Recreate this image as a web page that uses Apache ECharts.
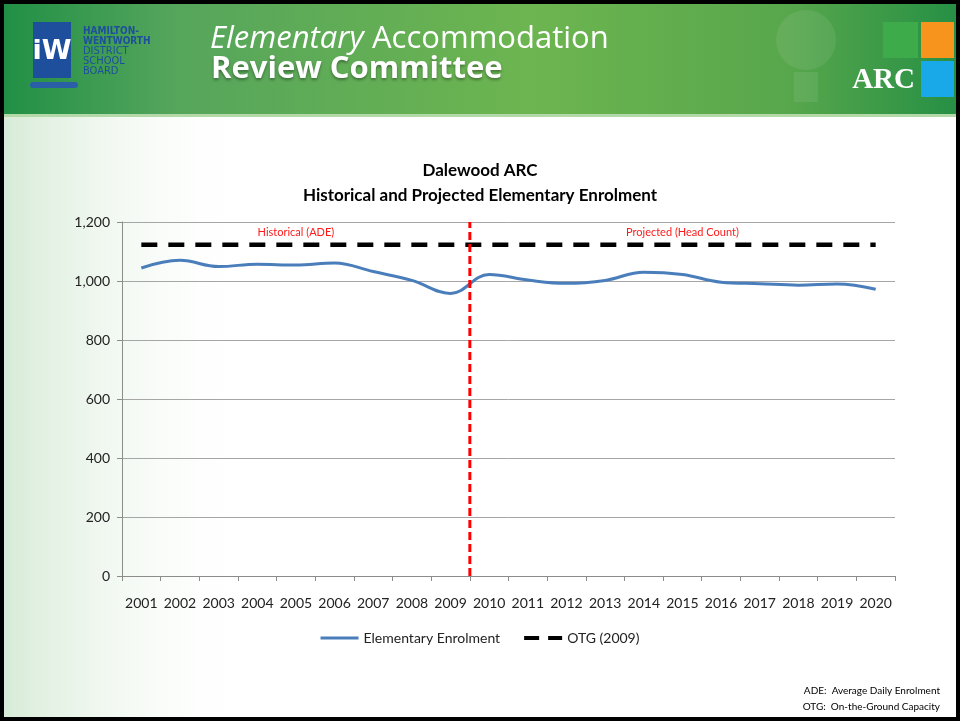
<!DOCTYPE html>
<html>
<head>
<meta charset="utf-8">
<title>Dalewood ARC</title>
<script src="https://cdn.jsdelivr.net/npm/echarts@6/dist/echarts.min.js"></script>
<style>
  html, body { margin: 0; padding: 0; background: #fff; }
  #chart { width: 960px; height: 721px; }
</style>
</head>
<body>
<div id="chart"></div>
<script>
// chart data
var years = ['2001', '2002', '2003', '2004', '2005', '2006', '2007', '2008', '2009', '2010',
             '2011', '2012', '2013', '2014', '2015', '2016', '2017', '2018', '2019', '2020'];
var enrolment = [1044, 1070, 1049, 1057, 1054, 1061, 1032, 1002, 958, 1022,
                 1003, 992, 1002, 1030, 1022, 996, 991, 986, 990, 972];
var otg = [1123, 1123, 1123, 1123, 1123, 1123, 1123, 1123, 1123, 1123,
           1123, 1123, 1123, 1123, 1123, 1123, 1123, 1123, 1123, 1123];
// split between historical and projected (after the 9th year)
var splitAt = 9;
var yTicks = [0, 200, 400, 600, 800, 1000, 1200];

var font = 'Lato, "Noto Sans", sans-serif';

/**
 * header banner, background and footnotes
 */
function buildGraphics() {
	return [
		// left body tint
		{ type: 'rect', z: -20, shape: { x: 0, y: 116, width: 260, height: 605 },
		  style: { fill: new echarts.graphic.LinearGradient(0, 0, 1, 0, [
			{ offset: 0, color: '#d6ead6' }, { offset: 1, color: 'rgba(255,255,255,0)' }]) } },
		// header band
		{ type: 'rect', z: -10, shape: { x: 0, y: 0, width: 960, height: 116 },
		  style: { fill: new echarts.graphic.LinearGradient(0, 0, 1, 0, [
			{ offset: 0, color: '#1f8f45' }, { offset: 0.18, color: '#55a55c' },
			{ offset: 0.55, color: '#6db550' }, { offset: 0.82, color: '#58a74c' },
			{ offset: 1, color: '#258f44' }]) } },
		{ type: 'rect', z: -9, shape: { x: 0, y: 114, width: 960, height: 3 },
		  style: { fill: '#b4d9a8' } },
		// board logo
		{ type: 'rect', z: -5, shape: { x: 33, y: 22, width: 38, height: 56 }, style: { fill: '#1d4f9c' } },
		{ type: 'text', z: -5, x: 52, y: 52, style: { text: 'iW', fill: '#fff', font: 'bold 27px "DejaVu Sans"', align: 'center', verticalAlign: 'middle' } },
		{ type: 'rect', z: -5, shape: { x: 30, y: 82, width: 48, height: 6, r: 3 }, style: { fill: '#2a5fa8' } },
		{ type: 'text', z: -5, x: 83, y: 26, style: { text: 'HAMILTON-\nWENTWORTH', fill: '#1d4f9c', font: 'bold 10px "DejaVu Sans Condensed", "DejaVu Sans"', lineHeight: 10 } },
		{ type: 'text', z: -5, x: 83, y: 46, style: { text: 'DISTRICT\nSCHOOL\nBOARD', fill: '#1d4f9c', font: '11px "DejaVu Sans Condensed", "DejaVu Sans"', lineHeight: 10 } },
		// header title
		{ type: 'text', z: -5, x: 210, y: 24, style: { text: 'Elementary', fill: '#fff', font: 'italic 31px "Open Sans"' } },
		{ type: 'text', z: -5, x: 372, y: 24, style: { text: 'Accommodation', fill: '#fff', font: '31px "Open Sans"' } },
		{ type: 'text', z: -5, x: 211, y: 54, style: { text: 'Review Committee', fill: '#fff', font: 'bold 31px "Open Sans"',
		  textShadowColor: 'rgba(0,0,0,0.35)', textShadowBlur: 3, textShadowOffsetY: 2 } },
		// light bulb hint
		{ type: 'circle', z: -6, shape: { cx: 806, cy: 40, r: 30 }, style: { fill: 'rgba(255,255,255,0.08)' } },
		{ type: 'rect', z: -6, shape: { x: 794, y: 72, width: 24, height: 30 }, style: { fill: 'rgba(255,255,255,0.08)' } },
		// ARC squares
		{ type: 'rect', z: -5, shape: { x: 883, y: 22, width: 35, height: 36 }, style: { fill: '#3dab49' } },
		{ type: 'rect', z: -5, shape: { x: 921, y: 22, width: 33, height: 36 }, style: { fill: '#f7941d' } },
		{ type: 'rect', z: -5, shape: { x: 921, y: 61, width: 33, height: 36 }, style: { fill: '#1aa9e8' } },
		{ type: 'text', z: -5, x: 915, y: 81, style: { text: 'ARC', fill: '#fff', font: 'bold 29px "Liberation Serif"', align: 'right', verticalAlign: 'middle' } },
		// footnotes
		{ type: 'text', x: 940, y: 691, style: { text: 'ADE:  Average Daily Enrolment', fill: '#000', font: '10px ' + font, align: 'right', verticalAlign: 'middle' } },
		{ type: 'text', x: 940, y: 707, style: { text: 'OTG:  On-the-Ground Capacity', fill: '#000', font: '10px ' + font, align: 'right', verticalAlign: 'middle' } },
		// frame
		{ type: 'rect', z: 50, shape: { x: 2, y: 2, width: 956, height: 717 },
		  style: { fill: 'none', stroke: '#000', lineWidth: 4 } }
	];
}

/**
 * build the chart
 */
function createChart() {
	var myChart = echarts.init(document.getElementById('chart'));

	var option = {
		backgroundColor: '#fff',
		animation: false,
		textStyle: { fontFamily: font },
		title: {
			text: 'Dalewood ARC\nHistorical and Projected Elementary Enrolment',
			left: 'center',
			top: 153,
			textStyle: { fontSize: 17, fontWeight: 'bold', color: '#000', lineHeight: 25, fontFamily: font }
		},
		graphic: buildGraphics(),
		legend: {
			data: [
				{ name: 'Elementary Enrolment', icon: 'path://M0,0.5h38v3h-38z' },
				{ name: 'OTG (2009)', icon: 'path://M0,0h15v4h-15z M24,0h14v4h-14z' }
			],
			top: 626,
			left: 'center',
			itemWidth: 38,
			itemHeight: 4,
			itemGap: 24,
			textStyle: { fontSize: 14, color: '#222', fontFamily: font }
		},
		grid: { left: 122, right: 65, top: 222, bottom: 145 },
		xAxis: [{
			type: 'category',
			data: years,
			boundaryGap: true,
			axisLine: { lineStyle: { color: '#8c8c8c' } },
			axisTick: { show: true, length: 5, lineStyle: { color: '#8c8c8c' } },
			axisLabel: { fontSize: 14, color: '#222', margin: 20, interval: 0 }
		}, {
			type: 'value',
			min: 0,
			max: years.length,
			show: false
		}],
		yAxis: {
			type: 'value',
			min: yTicks[0],
			max: yTicks[yTicks.length - 1],
			interval: 200,
			axisLine: { show: true, lineStyle: { color: '#8c8c8c' } },
			axisTick: { show: true, length: 5, lineStyle: { color: '#8c8c8c' } },
			splitLine: { lineStyle: { color: '#a6a6a6' } },
			axisLabel: {
				fontSize: 14, color: '#222', margin: 12,
				formatter: function(v) { return String(v).replace(/\B(?=(\d{3})+(?!\d))/g, ','); }
			}
		},
		series: [
			{
				name: 'Elementary Enrolment',
				type: 'line',
				data: enrolment,
				smooth: 0.4,
				symbol: 'none',
				itemStyle: { color: '#4a7ebb' },
				lineStyle: { color: '#4a7ebb', width: 3 },
				z: 3
			},
			{
				name: 'OTG (2009)',
				type: 'line',
				data: otg,
				symbol: 'none',
				itemStyle: { color: '#000' },
				lineStyle: { color: '#000', width: 4.5, type: [16, 11] },
				z: 2
			},
			{
				name: 'divider',
				type: 'line',
				xAxisIndex: 1,
				data: [[splitAt, yTicks[0]], [splitAt, yTicks[yTicks.length - 1]]],
				symbol: 'none',
				silent: true,
				lineStyle: { color: '#ff0000', width: 3, type: [8, 4] },
				z: 4,
				markArea: {
					silent: true,
					itemStyle: { color: 'rgba(0,0,0,0)' },
					label: { position: 'inside', color: '#ff1a1a', fontSize: 11, fontFamily: font },
					data: [
						[{ name: 'Historical (ADE)', xAxis: 0, yAxis: 1130 }, { xAxis: splitAt, yAxis: 1200 }],
						[{ name: 'Projected (Head Count)', xAxis: splitAt, yAxis: 1130 }, { xAxis: years.length, yAxis: 1200 }]
					]
				}
			}
		]
	};

	myChart.setOption(option);
}

createChart();
</script>
</body>
</html>
